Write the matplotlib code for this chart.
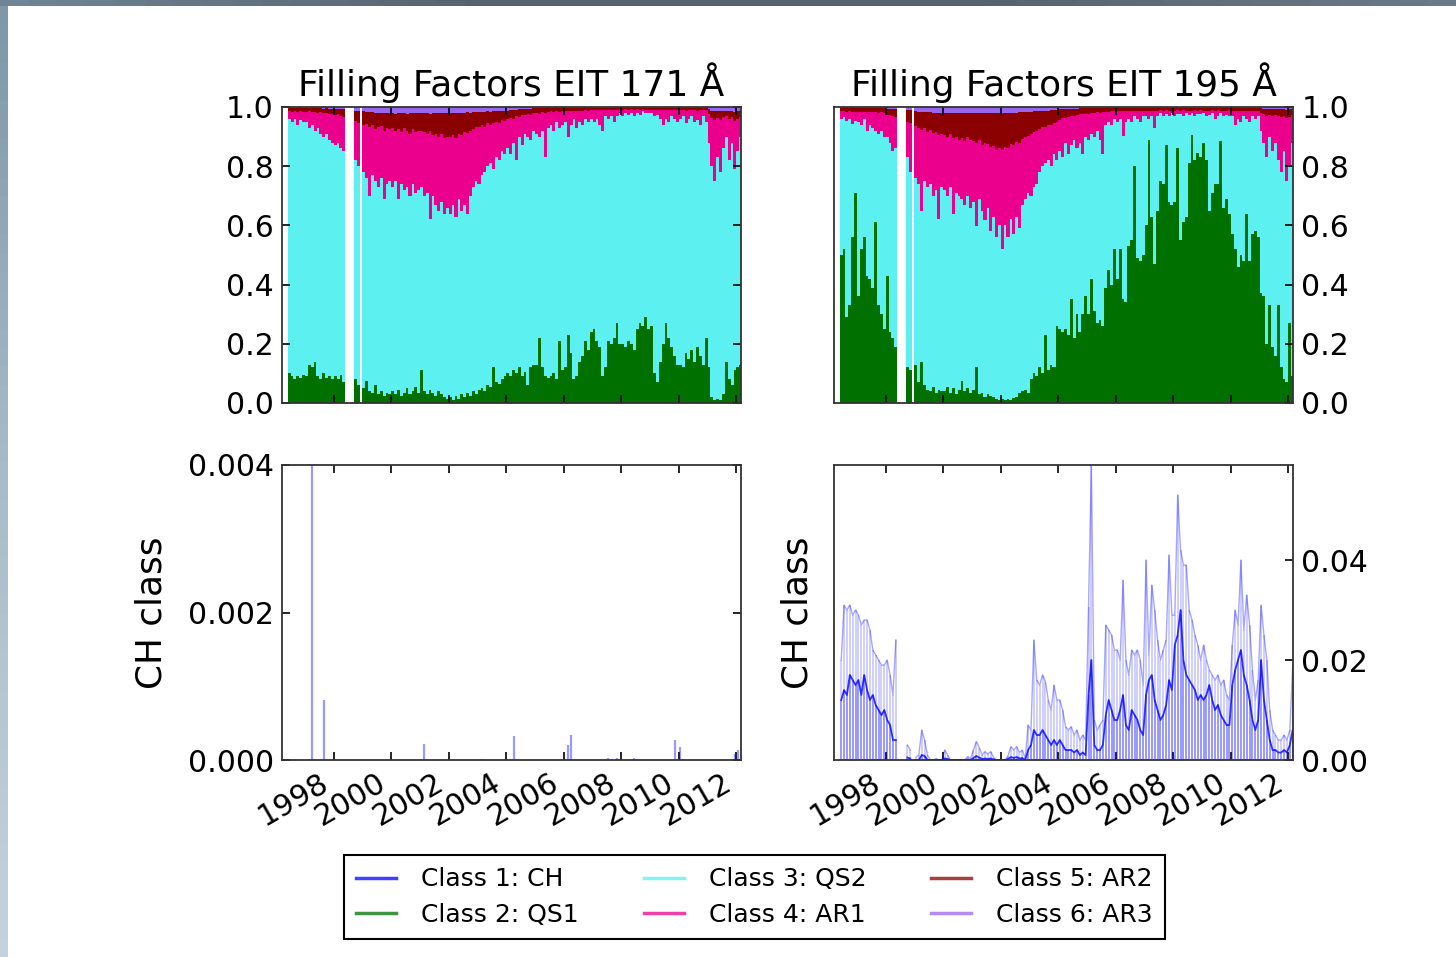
import numpy as np
import matplotlib
matplotlib.use("Agg")
import matplotlib.pyplot as plt
from matplotlib.lines import Line2D

nan = np.nan

# all series are sampled every 0.1 yr, first sample centred on 1996.45
first_sample = 1996.45
sample_step = 0.1

year_ticks = [1998, 2000, 2002, 2004, 2006, 2008, 2010, 2012]
class_names = ["Class 1: CH", "Class 2: QS1", "Class 3: QS2",
               "Class 4: AR1", "Class 5: AR2", "Class 6: AR3"]
class_colors = ["#0000ff", "#007000", "#5cf0f0", "#ea008c", "#8b0000", "#9966ee"]

# ---------------- EIT 171 filling factors ----------------
qs1_171 = [
    0.10, 0.09, 0.08, 0.09, 0.085, 0.095,
    0.09, 0.13, 0.12, 0.14, 0.09, 0.08, 0.10, 0.085, 0.09, 0.08,
    0.09, 0.08, 0.095, 0.07, nan, nan, nan, 0.08, 0.06, nan,
    0.05, 0.075, 0.04, 0.035, 0.06, 0.03, 0.04, 0.025, 0.035, 0.03,
    0.04, 0.03, 0.045, 0.025, 0.035, 0.05, 0.03, 0.04, 0.055, 0.035,
    0.11, 0.04, 0.03, 0.045, 0.035, 0.025, 0.04, 0.03, 0.02, 0.015,
    0.02, 0.01, 0.025, 0.015, 0.03, 0.02, 0.035, 0.025, 0.04, 0.03,
    0.045, 0.05, 0.04, 0.06, 0.055, 0.12, 0.07, 0.065, 0.08, 0.09,
    0.10, 0.09, 0.11, 0.10, 0.12, 0.09, 0.105, 0.06, 0.12, 0.13,
    0.13, 0.22, 0.12, 0.09, 0.085, 0.09, 0.10, 0.08, 0.21, 0.11,
    0.12, 0.23, 0.17, 0.08, 0.09, 0.14, 0.16, 0.21, 0.18, 0.24,
    0.25, 0.21, 0.19, 0.09, 0.12, 0.21, 0.20, 0.22, 0.27, 0.20,
    0.20, 0.19, 0.21, 0.20, 0.18, 0.25, 0.27, 0.26, 0.29, 0.25,
    0.26, 0.10, 0.07, 0.14, 0.20, 0.27, 0.22, 0.19, 0.16, 0.13,
    0.13, 0.12, 0.17, 0.15, 0.18, 0.14, 0.19, 0.16, 0.13, 0.22,
    0.12, 0.02, 0.01, 0.015, 0.01, 0.03, 0.14, 0.08, 0.06, 0.11,
    0.12, 0.13,
]
ar1_171 = [
    0.024, 0.033, 0.025, 0.044, 0.030, 0.033,
    0.033, 0.055, 0.042, 0.063, 0.051, 0.072, 0.079, 0.071, 0.088, 0.097,
    0.103, 0.096, 0.110, 0.117, nan, nan, nan, 0.133, 0.146, nan,
    0.160, 0.184, 0.232, 0.168, 0.175, 0.200, 0.175, 0.229, 0.190, 0.175,
    0.200, 0.168, 0.235, 0.174, 0.210, 0.188, 0.210, 0.184, 0.205, 0.200,
    0.190, 0.214, 0.200, 0.298, 0.205, 0.239, 0.250, 0.230, 0.254, 0.240,
    0.260, 0.234, 0.265, 0.220, 0.256, 0.245, 0.272, 0.220, 0.197, 0.183,
    0.193, 0.169, 0.153, 0.145, 0.129, 0.155, 0.121, 0.125, 0.106, 0.112,
    0.098, 0.124, 0.080, 0.151, 0.067, 0.102, 0.063, 0.076, 0.084, 0.060,
    0.071, 0.077, 0.064, 0.149, 0.054, 0.047, 0.064, 0.037, 0.054, 0.047,
    0.037, 0.085, 0.049, 0.027, 0.059, 0.038, 0.049, 0.030, 0.039, 0.030,
    0.040, 0.030, 0.050, 0.070, 0.020, 0.030, 0.020, 0.040, 0.020, 0.012,
    0.021, 0.011, 0.016, 0.011, 0.021, 0.011, 0.016, 0.006, 0.011, 0.011,
    0.011, 0.021, 0.016, 0.031, 0.051, 0.031, 0.041, 0.021, 0.031, 0.041,
    0.031, 0.021, 0.041, 0.031, 0.021, 0.041, 0.031, 0.051, 0.021, 0.041,
    0.097, 0.163, 0.206, 0.133, 0.175, 0.107, 0.068, 0.140, 0.086, 0.164,
    0.110, 0.066,
]
ar2_171 = [
    0.010, 0.012, 0.010, 0.011, 0.010, 0.012,
    0.012, 0.010, 0.013, 0.012, 0.014, 0.013, 0.015, 0.014, 0.016, 0.017,
    0.020, 0.018, 0.022, 0.025, nan, nan, nan, 0.035, 0.040, nan,
    0.045, 0.040, 0.050, 0.045, 0.055, 0.050, 0.045, 0.060, 0.050, 0.055,
    0.050, 0.060, 0.055, 0.065, 0.050, 0.060, 0.070, 0.055, 0.065, 0.060,
    0.060, 0.065, 0.070, 0.060, 0.075, 0.070, 0.080, 0.070, 0.085, 0.080,
    0.080, 0.075, 0.085, 0.070, 0.075, 0.065, 0.070, 0.060, 0.055, 0.050,
    0.050, 0.045, 0.050, 0.040, 0.045, 0.040, 0.035, 0.040, 0.030, 0.035,
    0.030, 0.025, 0.030, 0.020, 0.025, 0.020, 0.020, 0.018, 0.020, 0.015,
    0.015, 0.020, 0.012, 0.018, 0.012, 0.010, 0.012, 0.010, 0.012, 0.010,
    0.010, 0.012, 0.008, 0.010, 0.008, 0.009, 0.008, 0.007, 0.008, 0.007,
    0.006, 0.007, 0.006, 0.008, 0.006, 0.006, 0.005, 0.007, 0.006, 0.005,
    0.006, 0.005, 0.006, 0.005, 0.006, 0.005, 0.006, 0.004, 0.005, 0.006,
    0.006, 0.007, 0.006, 0.008, 0.007, 0.006, 0.007, 0.006, 0.007, 0.007,
    0.007, 0.006, 0.008, 0.007, 0.006, 0.007, 0.008, 0.007, 0.006, 0.008,
    0.015, 0.025, 0.030, 0.025, 0.030, 0.020, 0.020, 0.025, 0.020, 0.030,
    0.025, 0.020,
]
ar3_171 = [
    0.005, 0.005, 0.005, 0.005, 0.005, 0.005,
    0.005, 0.005, 0.005, 0.005, 0.005, 0.005, 0.006, 0.005, 0.006, 0.006,
    0.007, 0.006, 0.008, 0.008, nan, nan, nan, 0.012, 0.014, nan,
    0.015, 0.016, 0.018, 0.017, 0.020, 0.019, 0.020, 0.021, 0.020, 0.020,
    0.020, 0.022, 0.020, 0.021, 0.020, 0.022, 0.020, 0.021, 0.020, 0.020,
    0.020, 0.021, 0.020, 0.022, 0.020, 0.021, 0.020, 0.020, 0.021, 0.020,
    0.020, 0.021, 0.020, 0.020, 0.019, 0.020, 0.018, 0.020, 0.018, 0.017,
    0.017, 0.016, 0.017, 0.015, 0.016, 0.015, 0.014, 0.015, 0.014, 0.013,
    0.012, 0.011, 0.010, 0.009, 0.008, 0.008, 0.007, 0.006, 0.006, 0.005,
    0.004, 0.003, 0.004, 0.003, 0.004, 0.003, 0.004, 0.003, 0.004, 0.003,
    0.004, 0.003, 0.004, 0.003, 0.004, 0.003, 0.004, 0.003, 0.004, 0.003,
    0.004, 0.003, 0.004, 0.003, 0.004, 0.003, 0.004, 0.003, 0.004, 0.003,
    0.004, 0.003, 0.004, 0.003, 0.004, 0.003, 0.004, 0.003, 0.004, 0.003,
    0.004, 0.003, 0.004, 0.003, 0.004, 0.003, 0.004, 0.003, 0.004, 0.003,
    0.004, 0.003, 0.004, 0.003, 0.004, 0.003, 0.004, 0.003, 0.004, 0.003,
    0.008, 0.012, 0.014, 0.012, 0.015, 0.013, 0.012, 0.015, 0.014, 0.016,
    0.015, 0.014,
]

# ---------------- EIT 195 filling factors ----------------
qs1_195 = [
    0.50, 0.52, 0.29, 0.33, 0.56, 0.71,
    0.36, 0.52, 0.56, 0.43, 0.42, 0.39, 0.61, 0.33, 0.30, 0.25,
    0.43, 0.24, 0.22, 0.19, nan, nan, nan, 0.12, 0.11, nan,
    0.13, 0.07, 0.14, 0.06, 0.045, 0.04, 0.055, 0.035, 0.045, 0.04,
    0.04, 0.055, 0.035, 0.05, 0.03, 0.045, 0.073, 0.04, 0.05, 0.035,
    0.045, 0.12, 0.03, 0.035, 0.02, 0.03, 0.025, 0.02, 0.015, 0.01,
    0.012, 0.01, 0.015, 0.01, 0.017, 0.02, 0.035, 0.04, 0.045, 0.035,
    0.08, 0.10, 0.09, 0.12, 0.10, 0.23, 0.11, 0.13, 0.12, 0.26,
    0.25, 0.24, 0.25, 0.23, 0.35, 0.22, 0.30, 0.24, 0.30, 0.36,
    0.30, 0.42, 0.31, 0.27, 0.28, 0.26, 0.39, 0.45, 0.40, 0.52,
    0.42, 0.52, 0.35, 0.34, 0.53, 0.55, 0.80, 0.49, 0.48, 0.50,
    0.60, 0.89, 0.63, 0.47, 0.65, 0.75, 0.74, 0.87, 0.68, 0.67,
    0.68, 0.86, 0.55, 0.61, 0.63, 0.81, 0.906, 0.82, 0.845, 0.83,
    0.88, 0.82, 0.65, 0.71, 0.74, 0.74, 0.885, 0.66, 0.69, 0.64,
    0.57, 0.52, 0.46, 0.50, 0.48, 0.64, 0.48, 0.57, 0.58, 0.56,
    0.37, 0.36, 0.20, 0.33, 0.19, 0.16, 0.33, 0.12, 0.08, 0.07,
    0.27, 0.09,
]
ar1_195 = [
    0.025, 0.020, 0.030, 0.025, 0.040, 0.030,
    0.034, 0.044, 0.024, 0.064, 0.044, 0.054, 0.064, 0.072, 0.062, 0.080,
    0.074, 0.092, 0.119, 0.106, nan, nan, nan, 0.120, 0.165, nan,
    0.175, 0.189, 0.273, 0.179, 0.187, 0.182, 0.211, 0.195, 0.285, 0.180,
    0.185, 0.200, 0.180, 0.255, 0.190, 0.190, 0.205, 0.215, 0.200, 0.230,
    0.205, 0.280, 0.200, 0.220, 0.260, 0.215, 0.285, 0.240, 0.295, 0.260,
    0.335, 0.265, 0.300, 0.255, 0.301, 0.251, 0.287, 0.222, 0.208, 0.193,
    0.209, 0.185, 0.180, 0.146, 0.132, 0.123, 0.118, 0.139, 0.105, 0.130,
    0.107, 0.132, 0.083, 0.125, 0.099, 0.079, 0.112, 0.095, 0.135, 0.077,
    0.087, 0.071, 0.080, 0.062, 0.091, 0.143, 0.044, 0.034, 0.045, 0.026,
    0.036, 0.026, 0.086, 0.036, 0.026, 0.036, 0.016, 0.026, 0.036, 0.016,
    0.018, 0.028, 0.018, 0.058, 0.018, 0.008, 0.018, 0.013, 0.018, 0.008,
    0.019, 0.014, 0.009, 0.019, 0.009, 0.014, 0.009, 0.019, 0.009, 0.014,
    0.009, 0.019, 0.014, 0.009, 0.029, 0.019, 0.009, 0.019, 0.014, 0.019,
    0.018, 0.048, 0.028, 0.038, 0.018, 0.028, 0.038, 0.018, 0.028, 0.018,
    0.060, 0.096, 0.141, 0.074, 0.121, 0.093, 0.148, 0.186, 0.120, 0.213,
    0.167, 0.093,
]
ar2_195 = [
    0.010, 0.010, 0.011, 0.010, 0.012, 0.011,
    0.011, 0.012, 0.011, 0.012, 0.012, 0.013, 0.012, 0.014, 0.013, 0.015,
    0.020, 0.022, 0.025, 0.028, nan, nan, nan, 0.040, 0.045, nan,
    0.050, 0.055, 0.060, 0.055, 0.065, 0.060, 0.070, 0.065, 0.075, 0.070,
    0.075, 0.080, 0.070, 0.085, 0.080, 0.090, 0.085, 0.095, 0.080, 0.090,
    0.095, 0.100, 0.090, 0.110, 0.100, 0.105, 0.115, 0.110, 0.125, 0.120,
    0.125, 0.115, 0.120, 0.105, 0.110, 0.100, 0.105, 0.090, 0.085, 0.080,
    0.075, 0.070, 0.065, 0.060, 0.055, 0.055, 0.050, 0.050, 0.045, 0.040,
    0.035, 0.030, 0.030, 0.028, 0.025, 0.025, 0.022, 0.020, 0.020, 0.018,
    0.018, 0.015, 0.016, 0.014, 0.015, 0.013, 0.012, 0.012, 0.011, 0.010,
    0.010, 0.011, 0.009, 0.010, 0.011, 0.010, 0.009, 0.010, 0.011, 0.010,
    0.008, 0.009, 0.008, 0.009, 0.008, 0.008, 0.009, 0.008, 0.008, 0.009,
    0.008, 0.008, 0.009, 0.008, 0.008, 0.009, 0.008, 0.008, 0.009, 0.008,
    0.008, 0.009, 0.008, 0.008, 0.009, 0.008, 0.008, 0.009, 0.008, 0.008,
    0.009, 0.009, 0.010, 0.009, 0.009, 0.010, 0.009, 0.009, 0.010, 0.009,
    0.015, 0.018, 0.022, 0.020, 0.022, 0.020, 0.024, 0.026, 0.022, 0.028,
    0.025, 0.020,
]
ar3_195 = [
    0.005, 0.005, 0.005, 0.005, 0.005, 0.005,
    0.005, 0.005, 0.005, 0.005, 0.005, 0.005, 0.005, 0.005, 0.005, 0.005,
    0.006, 0.006, 0.006, 0.006, nan, nan, nan, 0.010, 0.010, nan,
    0.015, 0.016, 0.017, 0.016, 0.018, 0.018, 0.019, 0.020, 0.020, 0.020,
    0.020, 0.021, 0.020, 0.020, 0.021, 0.020, 0.020, 0.021, 0.020, 0.020,
    0.020, 0.021, 0.020, 0.020, 0.021, 0.020, 0.020, 0.021, 0.020, 0.020,
    0.020, 0.020, 0.020, 0.020, 0.019, 0.019, 0.018, 0.018, 0.017, 0.017,
    0.016, 0.015, 0.015, 0.014, 0.013, 0.012, 0.012, 0.011, 0.010, 0.010,
    0.008, 0.008, 0.007, 0.007, 0.006, 0.006, 0.006, 0.005, 0.005, 0.005,
    0.005, 0.004, 0.004, 0.004, 0.004, 0.004, 0.004, 0.004, 0.004, 0.004,
    0.004, 0.003, 0.004, 0.003, 0.004, 0.003, 0.004, 0.003, 0.004, 0.003,
    0.004, 0.003, 0.004, 0.003, 0.004, 0.003, 0.004, 0.003, 0.004, 0.003,
    0.004, 0.003, 0.004, 0.003, 0.004, 0.003, 0.004, 0.003, 0.004, 0.003,
    0.004, 0.003, 0.004, 0.003, 0.004, 0.003, 0.004, 0.003, 0.004, 0.003,
    0.004, 0.003, 0.004, 0.003, 0.004, 0.003, 0.004, 0.003, 0.004, 0.003,
    0.005, 0.006, 0.007, 0.006, 0.007, 0.007, 0.008, 0.008, 0.008, 0.009,
    0.008, 0.007,
]

# ---------------- CH class (class 1) ----------------
# 171: per-sample maxima, almost always zero
ch171_peak = [
    0, 0, 0, 0, 0, 0,
    0, 0, 0.0042, 0, 0, 0, 0.00082, 0, 0, 0,
    0, 0, 0, 0, nan, nan, nan, 0, 0, nan,
    0, 0, 0, 0, 0, 0, 0, 0, 0, 0,
    0, 0, 0, 0, 0, 0, 0, 0, 0, 0,
    0, 0.00022, 0, 0, 0, 0, 0, 0, 0, 0,
    0, 0, 0, 0, 0, 0, 0, 0, 0, 0,
    0, 0.00002, 0, 0, 0, 0, 0, 0, 0, 0,
    0, 0, 0.00033, 0, 0, 0, 0, 0, 0, 0,
    0, 0, 0, 0, 0, 0, 0, 0, 0, 0,
    0, 0.0002, 0.00034, 0, 0, 0, 0, 0, 0, 0,
    0, 0, 0, 0, 0, 0.00003, 0, 0, 0.00003, 0,
    0, 0, 0, 0, 0.00003, 0, 0, 0, 0, 0,
    0, 0, 0, 0, 0, 0, 0, 0, 0.00027, 0,
    0.00017, 0, 0, 0, 0, 0, 0, 0, 0, 0,
    0, 0, 0, 0, 0, 0, 0, 0, 0, 0.00008,
    0.00013, 0,
]
# 195: per-sample maxima and typical level
ch195_peak = [
    0.020, 0.031, 0.030, 0.031, 0.029, 0.030,
    0.029, 0.027, 0.028, 0.028, 0.026, 0.022, 0.021, 0.020, 0.019, 0.019,
    0.020, 0.017, 0.013, 0.024, nan, nan, nan, 0.003, 0.002, nan,
    0.0005, 0.001, 0.006, 0.004, 0.001, 0.0, 0.0, 0.0003, 0.0, 0.0,
    0.002, 0.001, 0.0, 0.0, 0.0, 0.0, 0.0, 0.0, 0.0007, 0.0003,
    0.002, 0.0037, 0.0025, 0.001, 0.0017, 0.0012, 0.0017, 0.0005, 0.0, 0.0,
    0.0, 0.0, 0.0008, 0.0027, 0.002, 0.0027, 0.0015, 0.002, 0.0003, 0.007,
    0.006, 0.024, 0.016, 0.015, 0.017, 0.0157, 0.012, 0.010, 0.015, 0.012,
    0.012, 0.010, 0.0067, 0.006, 0.0067, 0.005, 0.006, 0.004, 0.005, 0.004,
    0.0307, 0.059, 0.008, 0.006, 0.007, 0.008, 0.027, 0.026, 0.025, 0.022,
    0.022, 0.020, 0.036, 0.020, 0.017, 0.022, 0.021, 0.022, 0.020, 0.015,
    0.040, 0.021, 0.035, 0.030, 0.024, 0.020, 0.022, 0.024, 0.041, 0.029,
    0.029, 0.053, 0.042, 0.039, 0.039, 0.030, 0.028, 0.025, 0.023, 0.020,
    0.023, 0.020, 0.018, 0.017, 0.016, 0.017, 0.015, 0.016, 0.013, 0.012,
    0.023, 0.030, 0.027, 0.040, 0.026, 0.033, 0.027, 0.018, 0.012, 0.016,
    0.031, 0.025, 0.020, 0.010, 0.006, 0.005, 0.004, 0.004, 0.005, 0.004,
    0.006, 0.019,
]
ch195_level = [
    0.012, 0.014, 0.013, 0.017, 0.016, 0.015,
    0.016, 0.013, 0.017, 0.014, 0.012, 0.013, 0.011, 0.010, 0.009, 0.010,
    0.008, 0.007, 0.004, 0.004, nan, nan, nan, 0.0005, 0.0003, nan,
    0.0, 0.0, 0.001, 0.0008, 0.0, 0.0, 0.0, 0.0, 0.0, 0.0,
    0.0003, 0.0002, 0.0, 0.0, 0.0, 0.0, 0.0, 0.0, 0.0001, 0.0,
    0.0004, 0.0008, 0.0005, 0.0002, 0.0003, 0.0002, 0.0003, 0.0001, 0.0, 0.0,
    0.0, 0.0, 0.0002, 0.0006, 0.0004, 0.0006, 0.0003, 0.0004, 0.0, 0.002,
    0.003, 0.006, 0.005, 0.005, 0.006, 0.005, 0.004, 0.003, 0.004, 0.003,
    0.004, 0.003, 0.002, 0.002, 0.002, 0.0015, 0.002, 0.001, 0.0015, 0.001,
    0.013, 0.020, 0.003, 0.002, 0.002, 0.003, 0.009, 0.012, 0.010, 0.008,
    0.008, 0.010, 0.013, 0.007, 0.006, 0.010, 0.009, 0.008, 0.006, 0.005,
    0.013, 0.016, 0.017, 0.012, 0.010, 0.008, 0.009, 0.011, 0.016, 0.014,
    0.023, 0.025, 0.030, 0.020, 0.017, 0.016, 0.015, 0.014, 0.012, 0.013,
    0.012, 0.013, 0.015, 0.012, 0.010, 0.011, 0.009, 0.008, 0.007, 0.007,
    0.015, 0.018, 0.020, 0.022, 0.017, 0.015, 0.012, 0.008, 0.006, 0.008,
    0.020, 0.012, 0.008, 0.004, 0.002, 0.002, 0.0015, 0.0015, 0.002, 0.0015,
    0.003, 0.006,
]


def draw_filling(ax, years, qs1, ar1, ar2, ar3):
    qs1, ar1, ar2, ar3 = (np.asarray(a, float) for a in (qs1, ar1, ar2, ar3))
    qs2 = 1.0 - (qs1 + ar1 + ar2 + ar3)   # quiet sun 2 takes what is left
    bottom = np.zeros(len(years))
    for vals, col in zip([qs1, qs2, ar1, ar2, ar3], class_colors[1:]):
        # slightly wider than the sampling step so neighbouring bars leave no seam
        ax.bar(years, vals, width=sample_step * 1.06, bottom=bottom, color=col,
               linewidth=0, antialiased=False, align='center')
        bottom = bottom + vals
    ax.set_ylim(0, 1)
    ax.set_yticks([0, 0.2, 0.4, 0.6, 0.8, 1.0])
    ax.set_yticklabels(["%.1f" % v for v in [0, 0.2, 0.4, 0.6, 0.8, 1.0]])


def style_axes(ax, right, bottom_row):
    ax.set_xlim(1996.2, 2012.16)
    ax.set_xticks(year_ticks)
    ax.tick_params(direction='in', length=6, width=1.2, pad=6,
                   top=True, bottom=True)
    if right:
        ax.yaxis.tick_right()
        ax.tick_params(axis='y', left=False, right=True, direction='in',
                       length=6, width=1.2, pad=6)
    else:
        ax.tick_params(axis='y', left=True, right=True)
    if bottom_row:
        ax.set_xticklabels([str(y) for y in year_ticks], rotation=30, ha='right')
    else:
        ax.tick_params(axis='x', labelbottom=False)
    for s in ax.spines.values():
        s.set_linewidth(1.3)
        s.set_color('#333333')


def main():
    plt.rcParams['font.family'] = ['DejaVu Sans']
    plt.rcParams['font.size'] = 21.5

    n = len(qs1_171)
    for arr in (ar1_171, ar2_171, ar3_171, qs1_195, ar1_195, ar2_195, ar3_195,
                ch171_peak, ch195_peak, ch195_level):
        assert len(arr) == n, len(arr)
    years = first_sample + sample_step * np.arange(n)

    W, H = 1456, 957
    fig = plt.figure(figsize=(W / 100, H / 100), dpi=100)

    def frac(x0, y0, x1, y1):
        return [x0 / W, 1 - y1 / H, (x1 - x0) / W, (y1 - y0) / H]

    ax171 = fig.add_axes(frac(282, 107, 741, 403))
    ax195 = fig.add_axes(frac(834, 107, 1293, 403))
    axch171 = fig.add_axes(frac(282, 465, 741, 760))
    axch195 = fig.add_axes(frac(834, 465, 1293, 760))

    draw_filling(ax171, years, qs1_171, ar1_171, ar2_171, ar3_171)
    draw_filling(ax195, years, qs1_195, ar1_195, ar2_195, ar3_195)
    ax171.set_title("Filling Factors EIT 171 Å", fontsize=25.8, pad=8)
    ax195.set_title("Filling Factors EIT 195 Å", fontsize=25.8, pad=8)

    # CH class, 171
    p171 = np.asarray(ch171_peak, float)
    axch171.vlines(years, 0, p171, colors='blue', alpha=0.4, lw=1.6)
    axch171.set_ylim(0, 0.004)
    axch171.set_yticks([0, 0.002, 0.004])
    axch171.set_yticklabels(["0.000", "0.002", "0.004"])

    # CH class, 195: thin strokes up to the maxima, darker trace at the usual level
    p195 = np.asarray(ch195_peak, float)
    l195 = np.asarray(ch195_level, float)
    axch195.vlines(years, 0, p195, colors='blue', alpha=0.22, lw=1.2)
    axch195.vlines(years, 0, l195, colors='blue', alpha=0.3, lw=1.2)
    axch195.plot(years, p195, color='blue', alpha=0.35, lw=1.0)
    axch195.plot(years, l195, color='blue', alpha=0.8, lw=1.3)
    axch195.set_ylim(0, 0.059)
    axch195.set_yticks([0, 0.02, 0.04])
    axch195.set_yticklabels(["0.00", "0.02", "0.04"])

    style_axes(ax171, False, False)
    style_axes(ax195, True, False)
    style_axes(axch171, False, True)
    style_axes(axch195, True, True)
    for ax in (axch171, axch195):
        ax.set_ylabel("CH class", fontsize=25.8, labelpad=14)

    handles = [Line2D([0], [0], color=c, lw=2.5, alpha=0.75) for c in class_colors]
    leg = fig.legend(handles, class_names, loc='center', ncol=3,
                     bbox_to_anchor=(754.5 / W, 1 - 897 / H), fontsize=18,
                     fancybox=False, framealpha=1, edgecolor='black',
                     handlelength=1.6, handletextpad=1.0, columnspacing=2.6,
                     borderpad=0.5, labelspacing=0.45)
    leg.get_frame().set_linewidth(1.5)

    # screenshot frame: dark strip on top, blue-grey strip on the left
    top = fig.add_axes([0, 1 - 6 / H, 1, 6 / H])
    top.imshow(np.linspace(0, 1, 50)[None, :], aspect='auto',
               cmap=matplotlib.colors.LinearSegmentedColormap.from_list(
                   'tb', ['#6f8494', '#56636d', '#56636d', '#6a7a86']))
    top.axis('off')
    left = fig.add_axes([0, 0, 8 / W, 1 - 6 / H])
    left.imshow(np.linspace(0, 1, 50)[:, None], aspect='auto',
                cmap=matplotlib.colors.LinearSegmentedColormap.from_list(
                    'lb', ['#7f97a8', '#a9bccb', '#c3d2de']))
    left.axis('off')

    fig.savefig("out.png", dpi=100)


if __name__ == "__main__":
    main()
